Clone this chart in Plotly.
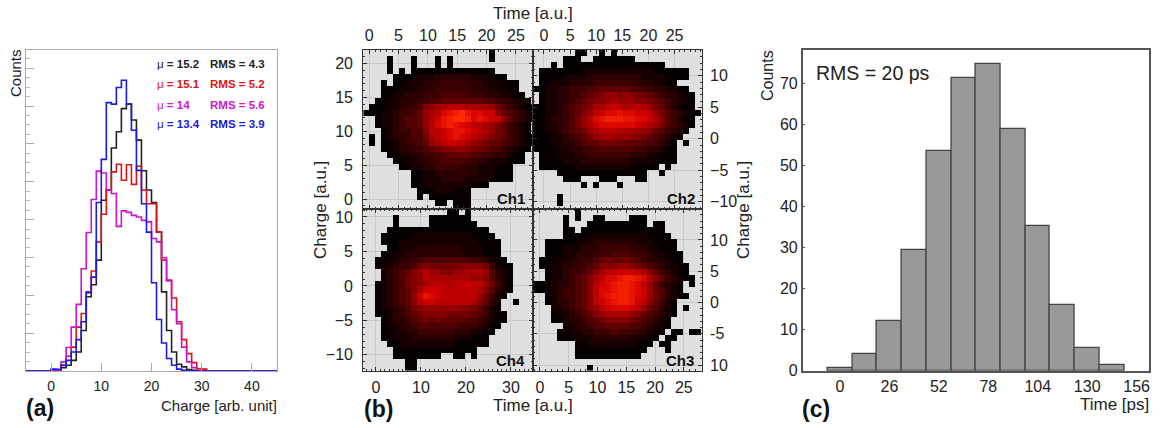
import plotly.graph_objects as go

W, H = 1160, 428

# ---------- panel (a): charge histograms, one value per unit bin starting at bin 0
HIST_EDGES = list(range(-5, 46))
BLACK_COUNTS = [2, 4, 9, 15, 28, 50, 107, 196, 228, 293, 451, 478, 589, 632, 693, 705, 663, 610, 529, 478, 445, 367, 209, 107, 50, 18, 11, 4, 2]
RED_COUNTS = [2, 2, 15, 39, 63, 116, 152, 209, 264, 341, 414, 478, 526, 546, 504, 545, 493, 541, 478, 442, 442, 367, 293, 240, 193, 130, 83, 46, 22, 6, 5]
MAGENTA_COUNTS = [0, 2, 24, 62, 116, 176, 270, 366, 453, 528, 523, 479, 469, 382, 423, 419, 411, 407, 398, 394, 350, 341, 299, 238, 162, 125, 63, 24, 9, 2]
BLUE_COUNTS = [5, 4, 15, 28, 50, 83, 130, 207, 248, 445, 559, 709, 705, 749, 768, 705, 636, 530, 442, 367, 233, 136, 74, 33, 15, 5, 2]
LEGEND_MU = ["15.2", "15.1", "14", "13.4"]
LEGEND_RMS = ["4.3", "5.2", "5.6", "3.9"]

# ---------- panel (b): intensity level per cell (hex digit), '.' = empty, top row first
CH1_ROWS = [
    ".....................0",
    "....0...0...0.0......0",
    "....0...0...0.0",
    "....0.0.00000000000000",
    ".....0000111222222111000",
    "...0.001112223333222111000",
    "...00011122233333322211100",
    "...001122233344443332221100",
    "..00112223344555555544332110",
    ".0001123347899aaa999986432100",
    "000112334589acdefdccbb7543210",
    "..0112344589bdeffecdcbb753210",
    "..011234458acdedcbaa98653210",
    "...01233447aabcddcba98653210",
    ".0.012234469abcdcba9876532100",
    ".0.0012334589abba987655432100",
    "...0012233456778876654432100",
    "....00112233445555443322100",
    ".....0011223344443322111000",
    "......0011223333222111000",
    "........00112222222111000",
    "........00111222211110000",
    "........0011111111000",
    ".........000111000",
    ".........0.0000000",
    "............00.000",
    "...............000",
]
CH2_ROWS = [
    ".......00..0.0",
    ".....000..0000000",
    "...0.00000000000000000",
    ".0000000111111111111000000",
    ".0000111122222222211110000",
    ".00111222233333332221100",
    "00112233344555554433221100",
    ".01122334567887876654322100",
    ".01122345677898887765432110",
    "001123456799aba9aa986532100",
    "0011234578abccdccbba86432100",
    "001223468acdeeeddccb9743100",
    "0011234689bccccccba98643210",
    "00112345689aaa999887543210",
    "0001123456889888776543210",
    "000112234556666555443210.0",
    "000011223344444443322100",
    ".00011122333333322211000",
    ".00001112222222211110000",
    ".00000011111111100000.0",
    "....000000000000000..0",
    ".....000...000...00",
    "........0.0...0",
    "",
    "....0",
    "....0",
]
CH4_ROWS = [
    "..............00.0",
    ".....0.....0000000",
    ".....0.....00000000",
    "....00000000000000000",
    "...0000011111111110000",
    "...00011111111111110000",
    "....0011122222221111000",
    "...00112222222222111000",
    "..0011223344444444332100",
    "..01123346766666777763100",
    "...1234578a88778899984210",
    "...1234678a99999998874210",
    "..012346789aaa9aabaa86310",
    "..01234579bbbaaaaaa974210",
    "..0123458bdcbaaaaaa85310",
    "..0123457abbaaaaaa97521..0",
    "..011234678888887765310",
    "..0012345677776666543100",
    "...012234565655554432100",
    "...01122344444443332100",
    "...0011223333332221100",
    "...001112222222111000",
    "....00111111111000000",
    ".....00000000000000",
    ".....00000000..00.0",
    ".......00",
    ".......00",
]
CH3_ROWS = [
    ".......0",
    ".....0.0..00....000",
    ".....0...0000000000.00",
    ".....00.00000000000000",
    ".....000011111111110000",
    "..0000011122222221110000",
    "..0001112223333322211000",
    "..00011222333444333211000",
    ".000112233456556543221100",
    ".0011223345777887654321100",
    "..0112334579aabbba97532100",
    "..011234579accdeedc97532100",
    "0001223457abcdeedca853210.0",
    "0001233457accdeedcb854210",
    "..01233457acdeeedcb8642100",
    "..01223457abcdeedba75310",
    "...11234578abcccba854210.0",
    "...011234578999987543210",
    "...00122345677776543210",
    ".....112234455554432110",
    "....001122333433322100.00.00",
    "....00011122222211100.00",
    ".......0011111111000.00",
    ".......000000000000...0",
    ".......00000000000",
    "",
    ".........0",
]
CH_NAMES = ["Ch1", "Ch2", "Ch4", "Ch3"]
TOP_TICKS_CH1 = [0, 5, 10, 15, 20, 25]
TOP_TICKS_CH2 = [0, 5, 10, 15, 20, 25]
BOTTOM_TICKS_CH4 = [0, 10, 20, 30]
BOTTOM_TICKS_CH3 = [0, 5, 10, 15, 20, 25]
LEFT_TICKS_CH1 = [0, 5, 10, 15, 20]
LEFT_TICKS_CH4 = [-10, -5, 0, 5, 10]
RIGHT_TICKS_CH2 = [-10, -5, 0, 5, 10]
RIGHT_TICKS_CH3 = [-10, -5, 0, 5, 10]
RIGHT_LABELS_CH3 = ["10", "-5", "0", "5", "10"]

# ---------- panel (c)
TIME_CENTERS = [0, 13, 26, 39, 52, 65, 78, 91, 104, 117, 130, 143]
TIME_COUNTS = [0.6, 4, 12.2, 29.4, 53.6, 71.3, 74.7, 58.9, 35.3, 15.9, 5.5, 1.3]
TIME_TICKS = [0, 26, 52, 78, 104, 130, 156]
COUNT_TICKS = [0, 10, 20, 30, 40, 50, 60, 70]

FONT = "Liberation Sans"
TXT = "#222222"


def dom_x(a, b):
    return [a / W, b / W]


def dom_y(top, bottom):
    return [1 - bottom / H, 1 - top / H]


def parse(rows, ncols):
    z = []
    for r in rows:
        r = r.ljust(ncols, ".")[:ncols]
        z.append([None if c == "." else int(c, 16) for c in r])
    return z[::-1]  # bottom row first


fig = go.Figure()

# (a)
series_a = [("#222222", BLACK_COUNTS), ("#dd1515", RED_COUNTS), ("#cc15cc", MAGENTA_COUNTS), ("#1a1ae0", BLUE_COUNTS)]
for color, counts in series_a:
    full = [0] * 5 + counts + [0] * (len(HIST_EDGES) - 5 - len(counts))
    fig.add_trace(go.Scatter(x=HIST_EDGES, y=full, mode="lines", xaxis="x", yaxis="y",
                             line=dict(color=color, width=1.6, shape="hv"), showlegend=False))

# (b)
BLOCKS = [
    (CH1_ROWS, "x2", "y2", -1.0, 1.02, 22.0, 0.886),
    (CH2_ROWS, "x3", "y3", -2.1, 1.15, 14.1, 0.952),
    (CH4_ROWS, "x4", "y4", -2.8, 1.333, 11.2, 0.87),
    (CH3_ROWS, "x5", "y5", -1.2, 1.04, 15.0, 0.96),
]
HEAT_SCALE = [[0, "#060000"], [0.75, "#d20000"], [1, "#ff2a00"]]
for rows, xa, ya, xl, dx, yt, dy in BLOCKS:
    z = parse(rows, 29)
    fig.add_trace(go.Heatmap(z=z, x0=xl + dx / 2, dx=dx, y0=yt - len(rows) * dy + dy / 2, dy=dy,
                             xaxis=xa, yaxis=ya, zmin=0, zmax=15, colorscale=HEAT_SCALE,
                             showscale=False, hoverongaps=False))

# (c)
fig.add_trace(go.Bar(x=TIME_CENTERS, y=TIME_COUNTS, width=13, xaxis="x6", yaxis="y6",
                     marker=dict(color="#999999", line=dict(color="#444444", width=1.3)), showlegend=False))

tickfont_b = dict(family=FONT, size=16, color=TXT)


def b_axis(range_, ticks, side, dom, standoff):
    return dict(domain=dom, range=range_, tickmode="array", tickvals=ticks, side=side,
                ticks="inside", ticklen=4, tickcolor="#333333", tickwidth=1, showline=True, mirror="ticks",
                linecolor="#333333", linewidth=1.3, showgrid=True, gridcolor="#c9c9c9", gridwidth=1,
                zeroline=False, tickfont=tickfont_b, ticklabelstandoff=standoff,
                minor=dict(dtick=1, ticks="inside", ticklen=2, tickcolor="#333333", showgrid=False))


fig.update_layout(
    width=W, height=H, margin=dict(l=0, r=0, t=0, b=0, autoexpand=False),
    paper_bgcolor="white", plot_bgcolor="rgba(0,0,0,0)", showlegend=False, bargap=0,
    font=dict(family=FONT, color=TXT),
    xaxis=dict(domain=dom_x(26, 277), range=[-5, 45], tickmode="array", tickvals=[0, 10, 20, 30, 40],
               ticks="inside", ticklen=8, tickcolor="#aaaaaa", showline=True, mirror=True,
               linecolor="#aaaaaa", linewidth=1.3, showgrid=False, zeroline=False,
               tickfont=dict(family=FONT, size=14, color=TXT), ticklabelstandoff=2, anchor="y"),
    yaxis=dict(domain=dom_y(50, 371), range=[0, 848], tickmode="array",
               tickvals=[100, 200, 300, 400, 500, 600, 700, 800], showticklabels=False,
               ticks="inside", ticklen=8, tickcolor="#aaaaaa", showline=True, mirror=True,
               linecolor="#aaaaaa", linewidth=1.3, showgrid=False, zeroline=False, anchor="x",
               minor=dict(dtick=25, ticks="inside", ticklen=4, tickcolor="#bbbbbb", showgrid=False)),
    xaxis2=dict(b_axis([-1.0, 27.9], TOP_TICKS_CH1, "top", dom_x(363.3, 533), 1), anchor="y2"),
    yaxis2=dict(b_axis([-1.4, 22.0], LEFT_TICKS_CH1, "left", dom_y(50, 208.7), 6), anchor="x2"),
    xaxis3=dict(b_axis([-2.1, 30.2], TOP_TICKS_CH2, "top", dom_x(533, 701.7), 1), anchor="y3"),
    yaxis3=dict(b_axis([-11.1, 14.1], RIGHT_TICKS_CH2, "right", dom_y(50, 208.7), 4), anchor="x3"),
    xaxis4=dict(b_axis([-2.8, 34.9], BOTTOM_TICKS_CH4, "bottom", dom_x(363.3, 533), 2), anchor="y4"),
    yaxis4=dict(b_axis([-12.3, 11.2], LEFT_TICKS_CH4, "left", dom_y(208.7, 370.7), 6), anchor="x4"),
    xaxis5=dict(b_axis([-1.2, 28.1], BOTTOM_TICKS_CH3, "bottom", dom_x(533, 701.7), 2), anchor="y5"),
    yaxis5=dict(b_axis([-10.9, 15.0], RIGHT_TICKS_CH3, "right", dom_y(208.7, 370.7), 4), anchor="x5",
                ticktext=RIGHT_LABELS_CH3),
    xaxis6=dict(domain=dom_x(802.7, 1149), range=[-19.6, 162.5], tickmode="array", tickvals=TIME_TICKS,
                ticks="", showline=True, mirror=True, linecolor="#555555", linewidth=1.5, showgrid=False,
                zeroline=False, tickfont=dict(family=FONT, size=16, color=TXT), ticklabelstandoff=0, anchor="y6"),
    yaxis6=dict(domain=dom_y(50, 370.7), range=[0, 78.1], tickmode="array", tickvals=COUNT_TICKS,
                ticks="inside", ticklen=3, tickcolor="#555555", showline=True, mirror=True, linecolor="#555555",
                linewidth=1.5, showgrid=False, zeroline=False,
                tickfont=dict(family=FONT, size=16, color=TXT), anchor="x6"),
)

# panel (b) grey background under the grid
fig.add_shape(type="rect", xref="paper", yref="paper", x0=363.3 / W, x1=701.7 / W,
              y0=1 - 370.7 / H, y1=1 - 50 / H, fillcolor="#dfdfdf", line_width=0, layer="below")


def note(text, x, y, size, anchor="left", color=TXT, angle=0, bold=False):
    fig.add_annotation(text=f"<b>{text}</b>" if bold else text, xref="paper", yref="paper",
                       x=x / W, y=1 - y / H, xanchor=anchor, yanchor="middle", showarrow=False,
                       textangle=angle, font=dict(family=FONT, size=size, color=color))


colors = [c for c, _ in series_a]
for i, (mu, rms, c) in enumerate(zip(LEGEND_MU, LEGEND_RMS, colors)):
    y = [64.3, 84.3, 104.7, 124.3][i]
    note(f"μ <b>= {mu}</b>", 155, y, 11.5, color=c)
    note(f"RMS = {rms}", 208, y, 11.5, color=c, bold=True)

note("Counts", 16, 73, 15, anchor="center", angle=-90)
note("Charge [arb. unit]", 279, 405, 15, anchor="right")
note("(a)", 24, 408, 23, bold=True, color="#111111")

note("Time [a.u.]", 533, 13, 17, anchor="center")
note("Time [a.u.]", 533, 405, 17, anchor="center")
note("Charge [a.u.]", 320, 210, 17, anchor="center", angle=-90)
note("Charge [a.u.]", 743, 210, 17, anchor="center", angle=-90)
note("(b)", 362, 409, 23, bold=True, color="#111111")
for name, x, y in zip(CH_NAMES, [526.7, 696.7, 526.7, 696], [198.3, 198.3, 360.7, 360.7]):
    note(name, x, y, 15, anchor="right", bold=True, color="#111111")

note("Counts", 767, 76, 16, anchor="center", angle=-90)
note("RMS = 20 ps", 814, 72.7, 19.5)
note("Time [ps]", 1151, 404, 17, anchor="right")
note("(c)", 800, 409, 23, bold=True, color="#111111")

fig.write_html("out.html", config={"displayModeBar": False},
               post_script="document.body.style.margin='0';document.body.style.overflow='hidden';")
